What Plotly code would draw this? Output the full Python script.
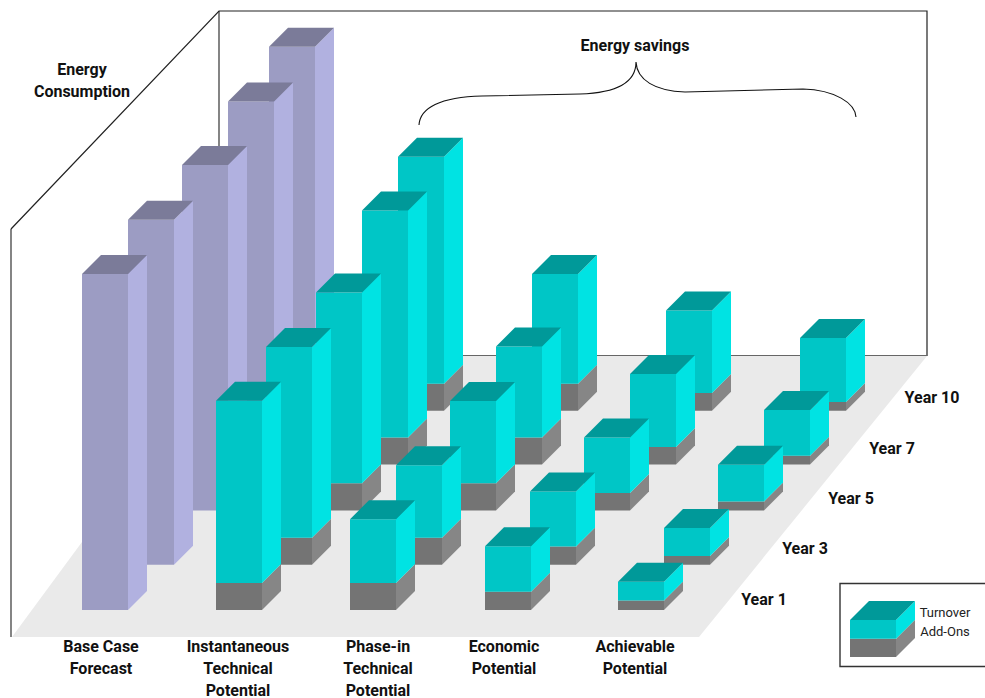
import plotly.graph_objects as go

# ---------- data (index units: Base Case, Year 1 = 100) ----------
years = ["Year 1", "Year 3", "Year 5", "Year 7", "Year 10"]
category_lines = [
    ["Base Case", "Forecast"],
    ["Instantaneous", "Technical", "Potential"],
    ["Phase-in", "Technical", "Potential"],
    ["Economic", "Potential"],
    ["Achievable", "Potential"],
]
base_case = [100.0, 102.7, 102.8, 108.0, 108.3]
add_ons_instantaneous = [8.0, 8.0, 8.1, 8.0, 8.0]
add_ons_phase_in = [8.0, 8.0, 8.1, 8.0, 8.0]
add_ons_economic = [5.4, 5.4, 5.2, 5.2, 5.3]
add_ons_achievable = [2.8, 2.6, 2.7, 2.6, 2.6]
turnover_instantaneous = [54.3, 56.8, 56.8, 67.6, 67.6]
turnover_phase_in = [19.0, 21.6, 24.5, 27.1, 32.7]
turnover_economic = [13.6, 16.4, 16.5, 21.7, 24.5]
turnover_achievable = [5.6, 8.3, 10.9, 13.6, 19.0]
legend_add_ons = 5.4
legend_turnover = 5.6

# ---------- projection of the drawing ----------
PX_PER_UNIT = 3.36
BAR_W = 46
DEPTH = 19
year_floor = [610, 564.7, 510.5, 464.5, 410.7]
bar_left = [
    [82, 128, 182, 228, 269],
    [216, 266, 316, 362, 398],
    [350, 396, 450, 496, 532],
    [485, 530, 584, 630, 666],
    [618, 664, 718, 764, 800],
]

PURPLE = ("#9C9CC3", "#B1B1E0", "#7B7B99")
TEAL = ("#00C6C6", "#00E3E3", "#009999")
GREY = ("#747474", "#868686", "#747474")

fig = go.Figure()


def poly(xs, ys, color, name):
    fig.add_trace(go.Scatter(
        x=xs + xs[:1], y=ys + ys[:1], mode="lines", fill="toself",
        fillcolor=color, line=dict(width=0, color=color),
        hoverinfo="skip", showlegend=False, name=name))


def block(left, floor, value, palette, name, top_face=True):
    w, d = BAR_W, DEPTH
    top = floor - value * PX_PER_UNIT
    poly([left, left + w, left + w, left], [floor, floor, top, top], palette[0], name)
    poly([left + w, left + w + d, left + w + d, left + w],
         [floor, floor - d, top - d, top], palette[1], name)
    if top_face:
        poly([left, left + w, left + w + d, left + d], [top, top, top - d, top - d], palette[2], name)
    return top


# floor
poly([12, 699, 927, 219], [637, 637, 356, 356], "#EAEAEA", "floor")

add_ons = [add_ons_instantaneous, add_ons_phase_in, add_ons_economic, add_ons_achievable]
turnover = [turnover_instantaneous, turnover_phase_in, turnover_economic, turnover_achievable]

for yi in reversed(range(len(years))):
    block(bar_left[0][yi], year_floor[yi], base_case[yi], PURPLE, "Base Case " + years[yi])
    for ci in range(4):
        left = bar_left[ci + 1][yi]
        t = block(left, year_floor[yi], add_ons[ci][yi], GREY, "Add-Ons", top_face=False)
        block(left, t, turnover[ci][yi], TEAL, "Turnover")

# legend cube
t = block(850, 657, legend_add_ons, GREY, "Add-Ons", top_face=False)
block(850, t, legend_turnover, TEAL, "Turnover")

# walls, brace and legend frame
wall = dict(type="path", xref="x", yref="y", layer="below")
shapes = [
    dict(wall, path="M 11,637 L 11,229", line=dict(color="#666666", width=1.6)),
    dict(wall, path="M 219,356 L 219,11", line=dict(color="#666666", width=1.6)),
    dict(wall, path="M 11,229 L 219,11 L 927,11 L 927,356", line=dict(color="#222222", width=1.2)),
    dict(wall, path="M 219,355.5 L 927,355.5", line=dict(color="#666666", width=1.2)),
    dict(type="path", xref="x", yref="y",
         path="M 419,125 C 420,108 440,97 482,96 L 580,94 C 613,93 636,85 636,62 "
              "C 637,80 655,91 685,92 L 803,89 C 835,90 855,103 856,117",
         line=dict(color="#111111", width=1.1)),
    dict(type="path", xref="x", yref="y", path="M 986,583.5 L 840,583.5 L 840,666.5 L 986,666.5",
         line=dict(color="#333333", width=1.4)),
]

# text
BOLD = dict(family="Roboto", size=16, color="#111111", weight="bold")
REG = dict(family="Roboto", size=13, color="#222222")
cat_text_x = [101, 238, 378, 504, 635]
line_y = [647.5, 669.5, 691.5]
year_text_x = [764, 805, 851, 892, 932]
year_text_y = [600.5, 549.5, 499.5, 449.5, 398.5]
tx, ty, ts = [], [], []
for cx, lines in zip(cat_text_x, category_lines):
    for ly, s in zip(line_y, lines):
        tx.append(cx); ty.append(ly); ts.append(s)
tx += year_text_x; ty += year_text_y; ts += years
tx += [82, 82, 635]; ty += [70.5, 92.5, 46.5]; ts += ["Energy", "Consumption", "Energy savings"]
fig.add_trace(go.Scatter(x=tx, y=ty, text=ts, mode="text", textposition="middle center",
                         textfont=BOLD, hoverinfo="skip", showlegend=False))
fig.add_trace(go.Scatter(x=[945, 945], y=[614, 633], text=["Turnover", "Add-Ons"], mode="text",
                         textposition="middle center", textfont=REG, hoverinfo="skip", showlegend=False))

fig.update_layout(
    width=985, height=698, margin=dict(l=0, r=0, t=0, b=0, pad=0),
    paper_bgcolor="white", plot_bgcolor="white", shapes=shapes, showlegend=False,
    xaxis=dict(range=[0, 985], visible=False, fixedrange=True),
    yaxis=dict(range=[698, 0], visible=False, fixedrange=True),
)
fig.write_html("out.html", config=dict(displayModeBar=False),
               post_script="document.body.style.margin='0';document.body.style.overflow='hidden';")
